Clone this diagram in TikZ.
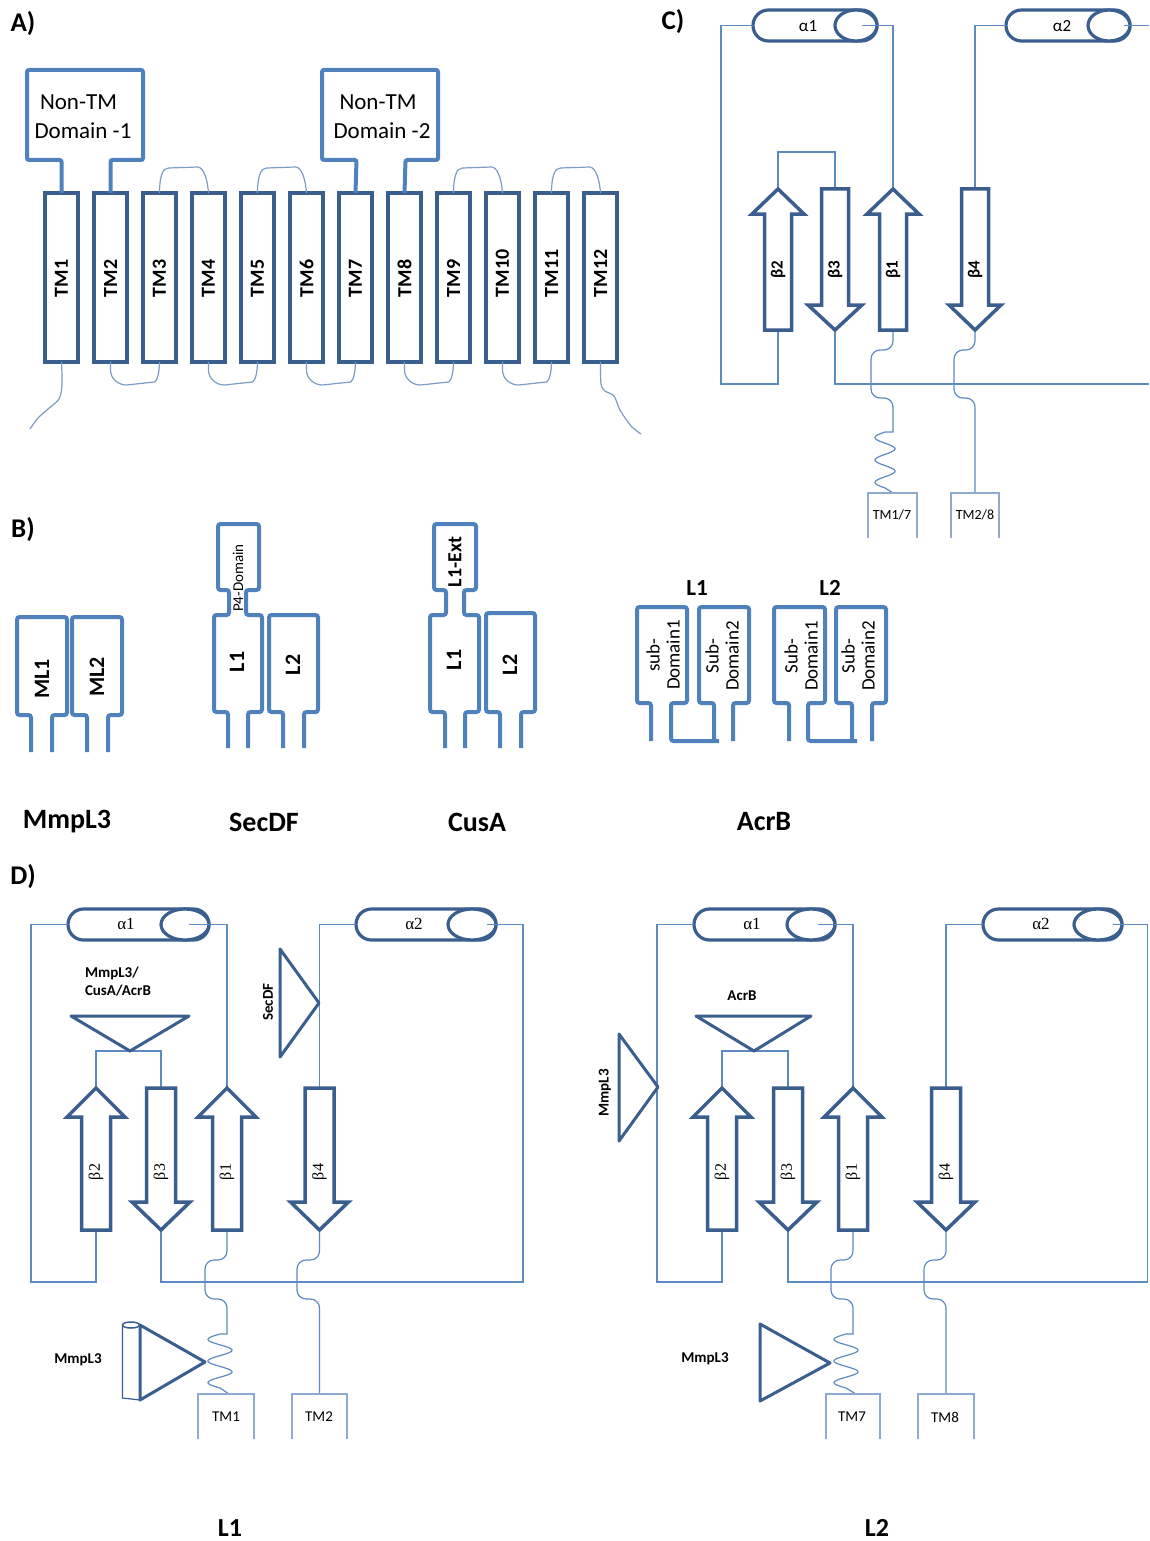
\documentclass[tikz,border=0pt]{standalone}
\usepackage{fontspec}
\setmainfont{Carlito}
\newfontfamily\grserif{Liberation Serif}
\usetikzlibrary{calc}
\definecolor{bA}{HTML}{4F81BD}
\definecolor{bDark}{HTML}{3A5F8F}
\definecolor{bThin}{HTML}{5E8AC2}
\definecolor{bLoop}{HTML}{7D9CC6}
\definecolor{bBox}{HTML}{8FAAD0}
\newcommand\fs[1]{\fontsize{#1}{#1}\selectfont}
\newcommand\toploop[2]{\draw[loopA] (#1.north) .. controls +(0,-16) and +(-6,0) .. ($(#1.north)+(9,-25)$) -- ($(#2.north)+(-11,-26)$) .. controls +(6,0) and +(-1,-14) .. (#2.north);}
\newcommand\botloop[2]{\draw[loopA] (#1.south) -- +(0,8) .. controls +(0,9) and +(-8,0) .. ($(#1.south)+(16,23)$) -- ($(#2.south)+(-5,20)$) .. controls +(3,-1) and +(0,9) .. (#2.south);}
\newcommand\dombox[7]{\draw[thickB] (#5,#7) -- (#5,#4) -- (#1,#4) -- (#1,#3) -- (#2,#3) -- (#2,#4) -- (#6,#4) -- (#6,#7);}
\newcommand\BUp[6]{\draw[betasty] ({#1-#5},#4) -- ({#1-#5},#3) -- ({#1-#6},#3) -- (#1,#2) -- ({#1+#6},#3) -- ({#1+#5},#3) -- ({#1+#5},#4) -- cycle;}
\newcommand\BDown[6]{\draw[betasty] ({#1-#5},#2) -- ({#1-#5},#3) -- ({#1-#6},#3) -- (#1,#4) -- ({#1+#6},#3) -- ({#1+#5},#3) -- ({#1+#5},#2) -- cycle;}
\newcommand\Helix[5]{\draw[helixsty, rounded corners=#4 pt] (#1,{#3-#4}) rectangle (#2,{#3+#4});
 \draw[helixsty] ({#2-#5},#3) ellipse [x radius=#5, y radius=#4];}
\newcommand\TMopen[4]{\draw[tmthin] (#1,#4) -- (#1,#3) -- (#2,#3) -- (#2,#4);}
\begin{document}
\begin{tikzpicture}[x=1pt,y=-1pt,
 every node/.style={inner sep=0pt, outer sep=0pt},
 panlab/.style={font=\bfseries\fs{27}},
 biglab/.style={font=\bfseries\fs{28}},
 tmbox/.style={draw=bDark, line width=3.5pt, minimum width=33pt, minimum height=169pt},
 tmlab/.style={rotate=90, anchor=west, font=\bfseries\fs{20}},
 thickA/.style={draw=bA, line width=4pt, rounded corners=2pt},
 thickB/.style={draw=bA, line width=4pt, rounded corners=2.5pt},
 loopA/.style={draw=bLoop, line width=1.2pt},
 domtxt/.style={font=\fs{23}},
 blab/.style={rotate=90, font=\bfseries\fs{22}},
 subtxt/.style={rotate=90, align=center, font=\fontsize{19}{20}\selectfont},
 betasty/.style={draw=bDark, line width=3.5pt, fill=white, line join=miter},
 helixsty/.style={draw=bDark, line width=3.2pt, fill=white},
 tristy/.style={draw=bDark, line width=3pt, line join=round},
 thinl/.style={draw=bThin, line width=1.2pt},
 tmthin/.style={draw=bBox, line width=1.2pt},
 clab/.style={rotate=90, font=\bfseries\fs{17}},
 dlab/.style={rotate=90, font=\grserif\fs{16}},
 calab/.style={font=\fs{17}},
 dalab/.style={font=\grserif\fs{17}},
 smtm/.style={font=\fs{14}},
 annot/.style={font=\bfseries\fs{15}}
]
\fill[white] (0,0) rectangle (1149,1541);
\useasboundingbox (0,0) rectangle (1149,1541);

% ---------------- panel letters ----------------
\node[panlab] (lA) at (23,24) {A)};
\node[panlab] (lB) at (23,530) {B)};
\node[panlab] (lC) at (673,22) {C)};
\node[panlab] (lD) at (23,877) {D)};

% ---------------- Panel A ----------------
\foreach \i in {1,...,12}{
 \node[tmbox] (tm\i) at ({61.5+49*(\i-1)},277.5) {};
 \node[tmlab] (tml\i) at ({61.5+49*(\i-1)},297) {TM\i};
}
\draw[thickA] (tm1.north) -- (61.5,160) -- (27,160) -- (27,70) -- (143,70) -- (143,160) -- (110.5,160) -- (tm2.north);
\node[domtxt] (d1a) at (78.5,102) {Non-TM};
\node[domtxt] (d1b) at (83,131) {Domain -1};
\draw[thickA] (tm7.north) -- (356.5,160) -- (322,160) -- (322,70) -- (438,70) -- (438,160) -- (405.5,160) -- (tm8.north);
\node[domtxt] (d2a) at (378,102) {Non-TM};
\node[domtxt] (d2b) at (382,131) {Domain -2};
\toploop{tm3}{tm4}
\toploop{tm5}{tm6}
\toploop{tm9}{tm10}
\toploop{tm11}{tm12}
\botloop{tm2}{tm3}
\botloop{tm4}{tm5}
\botloop{tm6}{tm7}
\botloop{tm8}{tm9}
\botloop{tm10}{tm11}
\draw[loopA] plot[smooth] coordinates {(tm1.south) (62,385) (59,399) (48,409) (38,418) (30,429)};
\draw[loopA] plot[smooth] coordinates {(tm12.south) (601,384) (605,391) (614,396) (620,410) (631,426) (641,434)};

% ---------------- Panel B ----------------
% MmpL3
\dombox{17}{67}{617}{715}{31}{52}{752}
\dombox{72}{122}{617}{715}{87}{108}{752}
\node[blab] (ml1) at (42,679) {ML1};
\node[blab] (ml2) at (97,677) {ML2};
% SecDF
\draw[thickB] (228,748) -- (228,712) -- (214,712) -- (214,615) -- (229,615) -- (229,590) -- (218,590) -- (218,524) -- (259,524) -- (259,590) -- (246,590) -- (246,615) -- (262,615) -- (262,712) -- (248,712) -- (248,748);
\dombox{269}{318}{615}{712}{283}{304}{748}
\node[rotate=90, font=\fs{15}] (p4) at (238,578) {P4-Domain};
\node[blab] (sl1) at (237,662) {L1};
\node[blab] (sl2) at (293,665) {L2};
% CusA
\draw[thickB] (445,748) -- (445,712) -- (430,712) -- (430,615) -- (446,615) -- (446,590) -- (434,590) -- (434,524) -- (476,524) -- (476,590) -- (464,590) -- (464,615) -- (479,615) -- (479,712) -- (465,712) -- (465,748);
\dombox{486}{535}{613}{712}{500}{521}{748}
\node[rotate=90, font=\bfseries\fs{20}] (l1e) at (455,562) {L1-Ext};
\node[blab] (cl1) at (454,660) {L1};
\node[blab] (cl2) at (510,665) {L2};
% AcrB
\node[font=\bfseries\fs{23}] (al1) at (697,588) {L1};
\node[font=\bfseries\fs{23}] (al2) at (830,588) {L2};
\draw[thickB] (651,741) -- (651,703) -- (637,703) -- (637,607) -- (687,607) -- (687,703) -- (671,703) -- (671,741) -- (719,741);
\dombox{699}{749}{607}{703}{714}{733}{741}
\draw[thickB] (789,741) -- (789,703) -- (774,703) -- (774,607) -- (825,607) -- (825,703) -- (808,703) -- (808,741) -- (857,741);
\dombox{836}{886}{607}{703}{852}{872}{741}
\node[subtxt] (sa) at (663,655) {sub-\\Domain1};
\node[subtxt] (sb) at (722,656) {Sub-\\Domain2};
\node[subtxt] (sc) at (801,656) {Sub-\\Domain1};
\node[subtxt] (sd) at (858,656) {Sub-\\Domain2};
% names
\node[biglab] (nm1) at (67,822) {MmpL3};
\node[biglab] (nm2) at (264,822) {SecDF};
\node[biglab] (nm3) at (477,822) {CusA};
\node[biglab] (nm4) at (764,822) {AcrB};

% ---------------- Panel C ----------------
\Helix{753}{877}{25.5}{15.5}{21}
\Helix{1006}{1130}{25.5}{15.5}{21}
\node[calab] (ca1) at (808,26) {α1};
\node[calab] (ca2) at (1062,26) {α2};
\draw[thinl] (753,25.5) -- (721,25.5) -- (721,384) -- (778,384) -- (778,330);
\draw[thinl] (862,25.5) -- (893,25.5) -- (893,189);
\draw[thinl] (778,189) -- (778,152) -- (835,152) -- (835,189);
\draw[thinl] (1006,25.5) -- (975,25.5) -- (975,189);
\draw[thinl] (1124,25.5) -- (1149,25.5);
\draw[thinl] (835,330) -- (835,384) -- (1149,384);
\draw[thinl] (893,330) [rounded corners=9pt] -- (893,350) -- (871,350) -- (871,398) -- (893,398) [sharp corners] -- (893,432)
  -- plot[domain=0:900, samples=90, smooth, variable=\t] ({885-10*sin(\t)},{432+0.0622*\t}) -- (893,493);
\draw[thinl] (975,330) [rounded corners=9pt] -- (975,350) -- (954,350) -- (954,398) -- (975,398) [sharp corners] -- (975,493);
\BUp{778}{189}{214}{330}{13.5}{26}
\BDown{835}{189}{305}{330}{13.5}{27}
\BUp{893}{189}{214}{330}{13.5}{26}
\BDown{975}{189}{305}{330}{13.5}{26}
\node[clab] (cb2) at (778,270) {β2};
\node[clab] (cb3) at (835,270) {β3};
\node[clab] (cb1) at (893,270) {β1};
\node[clab] (cb4) at (975,270) {β4};
\TMopen{868}{917}{493}{538}
\TMopen{951}{999}{493}{538}
\node[smtm] (ct1) at (892,515) {TM1/7};
\node[smtm] (ct2) at (975,515) {TM2/8};

% ---------------- Panel D left ----------------
\Helix{68}{209}{924.5}{15.5}{24}
\Helix{356}{496}{924.5}{15.5}{24}
\node[dalab] (da1) at (126,924) {α1};
\node[dalab] (da2) at (414,924) {α2};
\draw[thinl] (68,924.5) -- (31,924.5) -- (31,1282) -- (96,1282) -- (96,1230);
\draw[thinl] (189,924.5) -- (227,924.5) -- (227,1088);
\draw[thinl] (96,1088) -- (96,1051) -- (161,1051) -- (161,1088);
\draw[thinl] (356,924.5) -- (319.5,924.5) -- (319.5,1088);
\draw[thinl] (487,924.5) -- (523,924.5) -- (523,1282) -- (161,1282) -- (161,1230);
\draw[thinl] (227,1230) [rounded corners=9pt] -- (227,1260) -- (205,1260) -- (205,1299) -- (227,1299) [sharp corners] -- (227,1334)
  -- plot[domain=0:900, samples=90, smooth, variable=\t] ({220-12*sin(\t)},{1334+0.06*\t}) -- (229,1394);
\draw[thinl] (319.5,1230) [rounded corners=9pt] -- (319.5,1260) -- (297,1260) -- (297,1299) -- (319.5,1299) [sharp corners] -- (319.5,1394);
\BUp{96}{1088}{1117}{1230}{14.5}{29}
\BDown{161}{1088}{1202}{1230}{14.5}{29}
\BUp{227}{1088}{1117}{1230}{14.5}{29}
\BDown{319.5}{1088}{1202}{1230}{14.5}{29}
\node[dlab] (db2) at (96,1172) {β2};
\node[dlab] (db3) at (161,1172) {β3};
\node[dlab] (db1) at (227,1172) {β1};
\node[dlab] (db4) at (319.5,1172) {β4};
\draw[tristy] (71,1016) -- (189,1016) -- (130,1051) -- cycle;
\node[annot, anchor=west] (dm1) at (85,973) {MmpL3/};
\node[annot, anchor=west] (dm2) at (85,991) {CusA/AcrB};
\draw[tristy] (280,949) -- (280,1057) -- (319,1003) -- cycle;
\node[annot, rotate=90] (dsec) at (268,1002) {SecDF};
\draw[tristy] (140,1325) -- (140,1400) -- (205,1362) -- cycle;
\draw[tmthin, draw=bDark, line width=1.5pt] (131,1325) ellipse [x radius=8.5, y radius=3];
\draw[tmthin, draw=bDark, line width=1.2pt] (122.5,1325) -- (122.5,1398) -- (140,1400);
\node[annot] (dmm) at (78,1360) {MmpL3};
\TMopen{198}{254}{1394}{1439}
\TMopen{292}{347}{1394}{1439}
\node[smtm, font=\fs{15}] (dt1) at (226,1417) {TM1};
\node[smtm, font=\fs{15}] (dt2) at (319,1417) {TM2};

% ---------------- Panel D right ----------------
\Helix{694}{835}{924.5}{15.5}{24}
\Helix{983}{1122}{924.5}{15.5}{24}
\node[dalab] (ea1) at (752,924) {α1};
\node[dalab] (ea2) at (1041,924) {α2};
\draw[thinl] (694,924.5) -- (657,924.5) -- (657,1282) -- (722,1282) -- (722,1230);
\draw[thinl] (818,924.5) -- (853,924.5) -- (853,1088);
\draw[thinl] (722,1088) -- (722,1051) -- (788,1051) -- (788,1088);
\draw[thinl] (983,924.5) -- (946,924.5) -- (946,1088);
\draw[thinl] (1113,924.5) -- (1147.5,924.5) -- (1147.5,1282) -- (788,1282) -- (788,1230);
\draw[thinl] (853,1230) [rounded corners=9pt] -- (853,1260) -- (831,1260) -- (831,1299) -- (853,1299) [sharp corners] -- (853,1334)
  -- plot[domain=0:900, samples=90, smooth, variable=\t] ({846-12*sin(\t)},{1334+0.06*\t}) -- (856,1394);
\draw[thinl] (946,1230) [rounded corners=9pt] -- (946,1260) -- (924,1260) -- (924,1299) -- (946,1299) [sharp corners] -- (946,1394);
\BUp{722}{1088}{1117}{1230}{14.5}{29}
\BDown{788}{1088}{1202}{1230}{14.5}{29}
\BUp{853}{1088}{1117}{1230}{14.5}{29}
\BDown{946}{1088}{1202}{1230}{14.5}{29}
\node[dlab] (eb2) at (722,1172) {β2};
\node[dlab] (eb3) at (788,1172) {β3};
\node[dlab] (eb1) at (853,1172) {β1};
\node[dlab] (eb4) at (946,1172) {β4};
\draw[tristy] (696,1016) -- (811,1016) -- (754,1051) -- cycle;
\node[annot] (eacr) at (742,996) {AcrB};
\draw[tristy] (619,1034) -- (619,1141) -- (658,1087) -- cycle;
\node[annot, rotate=90] (emm1) at (605,1093) {MmpL3};
\draw[tristy] (760,1324) -- (760,1401) -- (830,1363) -- cycle;
\node[annot] (emm2) at (705,1359) {MmpL3};
\TMopen{826}{880}{1394}{1439}
\TMopen{918}{974}{1394}{1439}
\node[smtm, font=\fs{15}] (et1) at (852,1417) {TM7};
\node[smtm, font=\fs{15}] (et2) at (945,1417) {TM8};

\node[font=\bfseries\fs{26}] (bl1) at (230,1528) {L1};
\node[font=\bfseries\fs{26}] (bl2) at (877,1528) {L2};
\end{tikzpicture}
\end{document}
